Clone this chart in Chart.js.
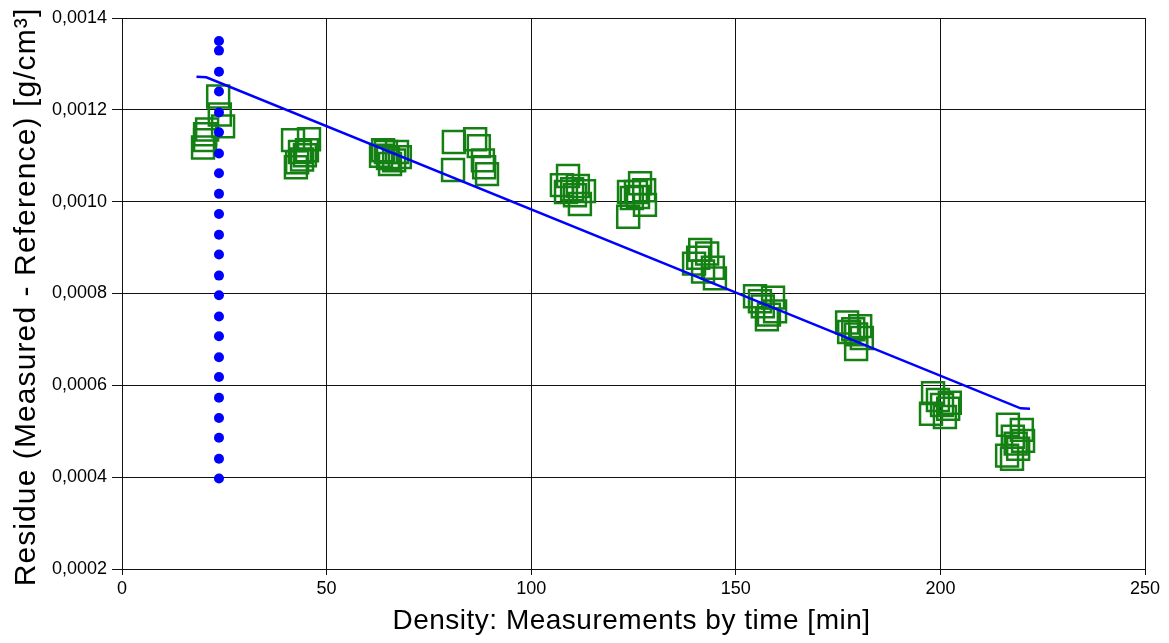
<!DOCTYPE html>
<html>
<head>
<meta charset="utf-8">
<script src="https://cdn.jsdelivr.net/npm/chart.js@4.4.1/dist/chart.umd.min.js"></script>
<style>
html,body{margin:0;padding:0;background:#fff;}
#wrap{width:1169px;height:643px;}
</style>
</head>
<body>
<div id="wrap"><canvas id="c" width="1169" height="643"></canvas></div>
<script>
// Blue vertical dots
const dotX = [23.7,23.7,23.7,23.7,23.7,23.7,23.7,23.7,23.7,23.7,23.7,23.7,23.7,23.7,23.7,23.7,23.7,23.7,23.7,23.7,23.7,23.7,23.7];
const dotY = [0.000397,0.000440,0.000486,0.000529,0.000573,0.000618,0.000661,0.000707,0.000750,0.000796,0.000839,0.000885,0.000928,0.000973,0.001017,0.001062,0.001105,0.001151,0.001194,0.001240,0.001283,0.001329,0.001350];

// Green square measurements
const sqX = [
  23.5,23.9,24.7,20.8,20.3,19.8,20.3,
  41.8,45.7,43.5,44.7,42.8,44.0,45.2,42.5,
  63.8,67.2,65.0,66.5,63.3,67.9,65.5,64.5,
  81.1,86.3,87.2,80.9,88.2,89.2,88.5,
  109.0,107.5,110.0,111.4,108.5,110.7,111.9,112.9,
  126.6,123.9,125.6,127.6,124.6,127.8,123.7,126.1,
  141.3,139.8,143.0,144.4,142.0,144.9,140.8,
  154.7,159.1,156.6,158.1,157.6,159.6,155.9,
  177.2,180.4,177.7,180.8,179.4,178.7,179.4,
  198.2,199.4,202.3,201.9,197.7,201.1,200.4,
  216.5,219.9,217.7,220.2,216.3,217.5,219.0,218.4
];
const sqY = [
  0.001229,0.001190,0.001164,0.001157,0.001147,0.001118,0.001134,
  0.001134,0.001136,0.001108,0.001101,0.001086,0.001092,0.001112,0.001075,
  0.001112,0.001108,0.001095,0.001090,0.001100,0.001097,0.001082,0.001108,
  0.001130,0.001136,0.001121,0.001069,0.001090,0.001060,0.001075,
  0.001056,0.001036,0.001027,0.001034,0.001021,0.001014,0.000995,0.001023,
  0.001040,0.001021,0.001021,0.001025,0.001008,0.000993,0.000967,0.001010,
  0.000895,0.000865,0.000887,0.000856,0.000848,0.000833,0.000878,
  0.000794,0.000791,0.000772,0.000754,0.000744,0.000761,0.000783,
  0.000737,0.000729,0.000716,0.000703,0.000679,0.000722,0.000711,
  0.000583,0.000568,0.000562,0.000549,0.000538,0.000531,0.000557,
  0.000514,0.000503,0.000488,0.000479,0.000447,0.000440,0.000462,0.000473
];

// Blue fit line
const lineX = [18.2, 20.6, 219.6, 221.9];
const lineY = [0.001272, 0.001271, 0.000550, 0.000549];

// Axis ticks and titles
const xTicks = [0, 50, 100, 150, 200, 250];
const yTicks = [0.0002, 0.0004, 0.0006, 0.0008, 0.0010, 0.0012, 0.0014];
const xTitle = 'Density: Measurements by time [min]';
const yTitle = 'Residue (Measured - Reference) [g/cm³]';

const toPts = (xs, ys) => xs.map((x, i) => ({x: x, y: ys[i]}));

const FONT = "'Liberation Sans', Arial, sans-serif";

const titlePlugin = {
  id: 'axisTitles',
  afterDraw(chart) {
    const ctx = chart.ctx;
    const a = chart.chartArea;
    ctx.save();
    ctx.fillStyle = '#000';
    ctx.textAlign = 'center';
    ctx.textBaseline = 'alphabetic';
    // x title
    ctx.font = '28px ' + FONT;
    ctx.letterSpacing = '0.5px';
    ctx.fillText(xTitle, (a.left + a.right) / 2 - 2, 629);
    // y title
    ctx.font = '30px ' + FONT;
    ctx.letterSpacing = '1.1px';
    ctx.translate(35, 297);
    ctx.rotate(-Math.PI / 2);
    ctx.fillText(yTitle, 0, 0);
    ctx.restore();
  }
};

new Chart(document.getElementById('c'), {
  type: 'scatter',
  plugins: [titlePlugin],
  data: {
    datasets: [
      {
        data: toPts(dotX, dotY),
        pointStyle: 'circle',
        pointRadius: 5,
        pointBackgroundColor: 'rgb(0,0,255)',
        pointBorderColor: 'rgb(0,0,255)',
        pointBorderWidth: 0,
        order: 1
      },
      {
        data: toPts(lineX, lineY),
        showLine: true,
        borderColor: 'rgb(0,0,255)',
        borderWidth: 2.5,
        pointRadius: 0,
        fill: false,
        order: 2
      },
      {
        data: toPts(sqX, sqY),
        pointStyle: 'rect',
        pointRadius: 15.5,
        pointBackgroundColor: 'rgba(0,0,0,0)',
        pointBorderColor: 'rgb(20,128,20)',
        pointBorderWidth: 2.5,
        order: 3
      }
    ]
  },
  options: {
    responsive: false,
    animation: false,
    events: [],
    layout: {padding: {top: 15, right: 24, left: 0, bottom: 0}},
    plugins: {legend: {display: false}, tooltip: {enabled: false}},
    scales: {
      x: {
        type: 'linear',
        min: 0, max: 250,
        afterBuildTicks: (s) => { s.ticks = xTicks.map(v => ({value: v})); },
        afterFit: (s) => { s.height = 74; },
        grid: {color: '#111', lineWidth: 1, tickLength: 6, drawTicks: true},
        border: {color: '#111', width: 1},
        ticks: {color: '#000', font: {family: FONT, size: 18}, padding: 3,
                callback: (v) => String(v)},
        title: {display: false}
      },
      y: {
        type: 'linear',
        min: 0.0002, max: 0.0014,
        afterBuildTicks: (s) => { s.ticks = yTicks.map(v => ({value: v})); },
        afterFit: (s) => { s.width = 122; },
        grid: {color: '#111', lineWidth: 1, tickLength: 10, drawTicks: true},
        border: {color: '#111', width: 1},
        ticks: {color: '#000', font: {family: FONT, size: 18}, padding: 5,
                callback: (v) => Number(v).toFixed(4).replace('.', ',')},
        title: {display: false}
      }
    }
  }
});
</script>
</body>
</html>
